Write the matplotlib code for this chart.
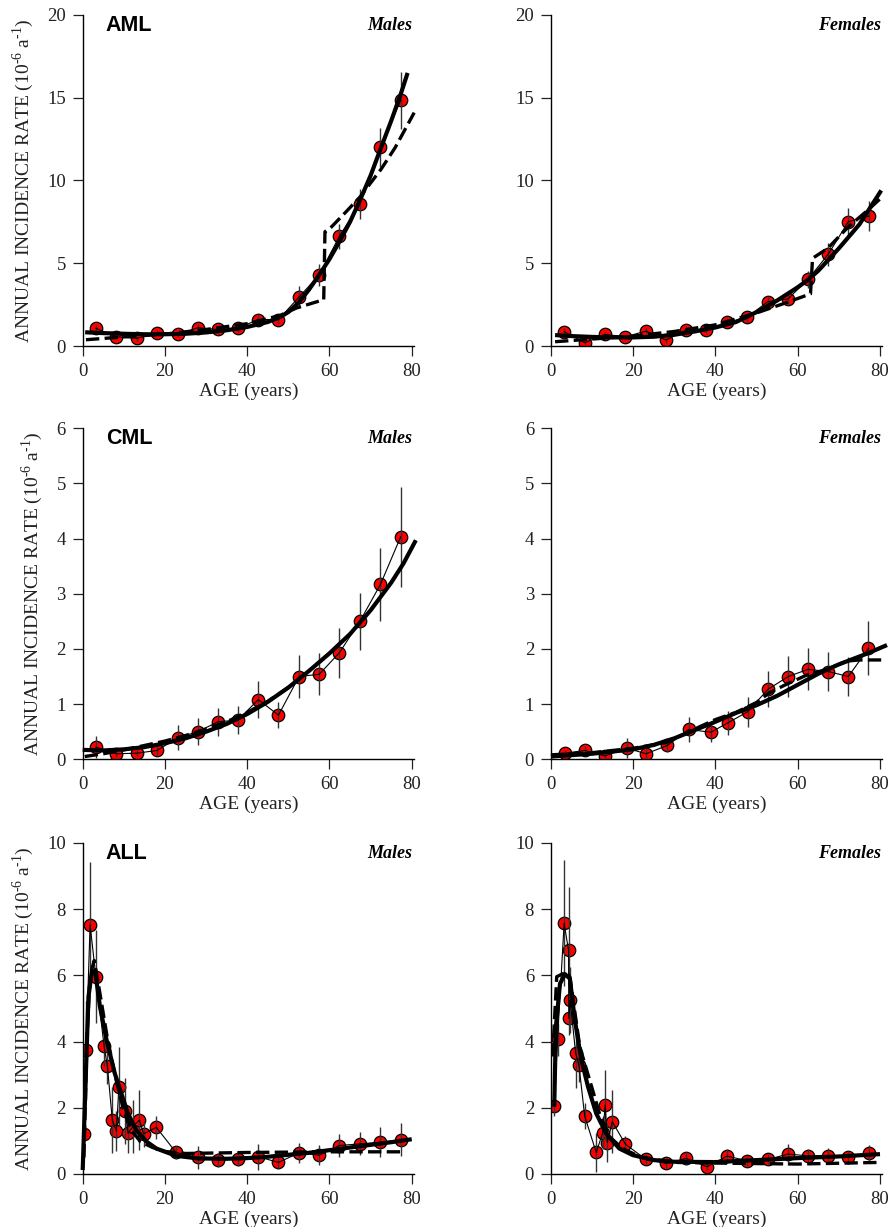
import matplotlib.pyplot as plt

plt.rcParams["font.family"] = ["Liberation Serif", "DejaVu Serif"]
plt.rcParams["mathtext.fontset"] = "custom"
plt.rcParams["mathtext.rm"] = "Liberation Serif"

# ---- AML, males
aml_m_age = [3.2, 8.2, 13.1, 18.1, 23.1, 28.0, 32.9, 37.7, 42.7, 47.6, 52.6, 57.5, 62.4, 67.4, 72.4, 77.3]
aml_m_rate = [1.07, 0.56, 0.46, 0.80, 0.70, 1.10, 1.00, 1.07, 1.60, 1.60, 2.96, 4.29, 6.63, 8.60, 12.00, 14.84]
aml_m_err = [0.2, 0.15, 0.15, 0.15, 0.15, 0.2, 0.2, 0.2, 0.25, 0.3, 0.65, 0.65, 0.75, 0.9, 1.2, 1.7]
aml_m_fit_x = [0.6, 5, 10, 15, 20, 25, 30, 35, 40, 45, 48, 50, 52.6, 55, 57.5, 60, 62.4, 65, 67.4, 70, 72.4, 75, 77.3, 79]
aml_m_fit_y = [0.83, 0.78, 0.74, 0.71, 0.71, 0.74, 0.82, 0.95, 1.15, 1.45, 1.75, 2.05, 2.65, 3.4, 4.3, 5.25, 6.3, 7.5, 8.8, 10.3, 11.9, 13.6, 15.2, 16.5]
aml_m_dash_x = [0.8, 10, 20, 30, 40, 48, 52, 58.6, 58.9, 60.5, 64, 67.4, 72.6, 76, 80.6]
aml_m_dash_y = [0.38, 0.55, 0.72, 1.0, 1.35, 1.85, 2.3, 2.8, 6.9, 7.2, 8.1, 9.0, 10.7, 12.0, 14.1]

# ---- AML, females
aml_f_age = [3.2, 8.2, 13.1, 18.1, 23.1, 28.0, 32.9, 37.8, 42.8, 47.7, 52.7, 57.6, 62.5, 67.4, 72.3, 77.3]
aml_f_rate = [0.87, 0.20, 0.70, 0.56, 0.90, 0.36, 0.97, 0.97, 1.43, 1.73, 2.68, 2.84, 4.03, 5.54, 7.51, 7.85]
aml_f_err = [0.2, 0.1, 0.15, 0.15, 0.2, 0.15, 0.2, 0.2, 0.25, 0.25, 0.3, 0.35, 0.5, 0.7, 0.85, 0.9]
aml_f_fit_x = [1, 5, 10, 15, 20, 25, 30, 35, 40, 45, 50, 55, 60, 62.5, 65, 70, 75, 80.3]
aml_f_fit_y = [0.66, 0.6, 0.55, 0.52, 0.52, 0.56, 0.68, 0.88, 1.12, 1.45, 2.05, 2.75, 3.55, 4.0, 4.55, 5.9, 7.35, 9.4]
aml_f_dash_x = [1, 10, 20, 30, 40, 50, 57, 63.1, 63.6, 67.3, 72.3, 77, 80.5]
aml_f_dash_y = [0.26, 0.42, 0.6, 0.88, 1.28, 2.0, 2.6, 3.15, 5.3, 5.9, 7.2, 8.2, 9.0]

# ---- CML, males
cml_m_age = [3.2, 8.2, 13.1, 18.1, 23.1, 28.0, 32.9, 37.7, 42.7, 47.6, 52.6, 57.5, 62.4, 67.4, 72.4, 77.3]
cml_m_rate = [0.22, 0.10, 0.11, 0.16, 0.39, 0.50, 0.68, 0.71, 1.08, 0.80, 1.50, 1.54, 1.93, 2.50, 3.17, 4.03]
cml_m_err = [0.2, 0.05, 0.05, 0.08, 0.23, 0.24, 0.25, 0.25, 0.33, 0.23, 0.39, 0.38, 0.45, 0.52, 0.66, 0.9]
cml_m_fit_x = [0, 5, 10, 15, 20, 25, 30, 35, 40, 45, 50, 55, 60, 65, 70, 75, 78, 81]
cml_m_fit_y = [0.17, 0.16, 0.18, 0.22, 0.29, 0.38, 0.5, 0.64, 0.82, 1.04, 1.3, 1.6, 1.92, 2.27, 2.7, 3.2, 3.55, 3.97]
cml_m_dash_x = [0.5, 5, 10, 15, 20, 25, 30, 35, 40, 45, 50]
cml_m_dash_y = [0.05, 0.1, 0.17, 0.25, 0.33, 0.43, 0.55, 0.68, 0.85, 1.05, 1.3]

# ---- CML, females
cml_f_age = [3.4, 8.2, 13.1, 18.5, 23.1, 28.3, 33.5, 38.9, 43.0, 47.8, 52.8, 57.7, 62.5, 67.4, 72.3, 77.2]
cml_f_rate = [0.11, 0.16, 0.06, 0.20, 0.10, 0.25, 0.54, 0.49, 0.66, 0.86, 1.27, 1.50, 1.63, 1.59, 1.50, 2.01]
cml_f_err = [0.05, 0.08, 0.04, 0.18, 0.08, 0.12, 0.23, 0.18, 0.22, 0.27, 0.33, 0.38, 0.38, 0.35, 0.35, 0.49]
cml_f_fit_x = [0, 10, 20, 25, 30, 35, 40, 45, 50, 55, 60, 65, 70, 77, 81.7]
cml_f_fit_y = [0.05, 0.1, 0.18, 0.26, 0.38, 0.53, 0.68, 0.84, 0.98, 1.15, 1.35, 1.55, 1.72, 1.92, 2.07]
cml_f_dash_x = [0, 10, 20, 28, 35, 40, 45, 50, 53, 57, 62, 67, 72, 75, 81]
cml_f_dash_y = [0.08, 0.12, 0.2, 0.3, 0.55, 0.72, 0.85, 1.03, 1.2, 1.35, 1.52, 1.63, 1.78, 1.8, 1.8]

# ---- ALL, males
all_m_age = [0.2, 0.8, 1.8, 3.2, 5.2, 6.0, 7.2, 8.2, 8.8, 10.3, 11.0, 12.2, 13.8, 14.8, 17.9, 22.7,
             28.0, 32.8, 37.7, 42.7, 47.6, 52.6, 57.5, 62.4, 67.4, 72.4, 77.3]
all_m_rate = [1.21, 3.74, 7.52, 5.96, 3.86, 3.26, 1.63, 1.30, 2.64, 1.90, 1.23, 1.43, 1.63, 1.21, 1.41, 0.65,
              0.50, 0.42, 0.45, 0.52, 0.35, 0.64, 0.57, 0.86, 0.91, 0.96, 1.03]
all_m_err = [0.5, 1.5, 1.9, 1.4, 0.6, 0.55, 1.0, 0.6, 1.2, 1.0, 0.6, 0.8, 0.9, 0.4, 0.35, 0.2,
             0.35, 0.2, 0.2, 0.4, 0.2, 0.3, 0.3, 0.35, 0.35, 0.45, 0.5]
all_m_fit_x = [0, 0.6, 1.4, 2.2, 3.0, 4.2, 5.8, 7.8, 9.4, 11, 13, 15.5, 17.9, 22.7, 28, 35, 40, 45, 50, 55, 60, 65, 70, 75, 80]
all_m_fit_y = [0.12, 2.4, 5.35, 6.1, 6.15, 5.05, 4.05, 3.04, 2.43, 1.83, 1.33, 0.98, 0.77, 0.55, 0.47, 0.46, 0.48,
               0.52, 0.58, 0.64, 0.72, 0.8, 0.88, 0.96, 1.05]
all_m_dash_x = [0.3, 1.0, 1.8, 2.8, 4, 6, 8, 10, 12, 14, 17, 20, 25, 30, 40, 50, 60, 78.4]
all_m_dash_y = [0.5, 4.0, 6.0, 6.45, 5.6, 4.1, 2.9, 1.9, 1.3, 0.98, 0.8, 0.68, 0.62, 0.63, 0.65, 0.66, 0.67, 0.67]

# ---- ALL, females
all_f_age = [0.8, 1.6, 3.2, 4.27, 4.34, 4.66, 6.0, 6.8, 8.2, 11.0, 12.6, 13.2, 13.7, 14.9, 18.1, 23.1,
             28.0, 32.9, 37.9, 42.8, 47.7, 52.7, 57.6, 62.5, 67.4, 72.3, 77.3]
all_f_rate = [2.05, 4.07, 7.57, 6.76, 4.70, 5.25, 3.65, 3.29, 1.75, 0.65, 1.25, 2.08, 0.95, 1.58, 0.90, 0.44,
              0.32, 0.47, 0.22, 0.54, 0.40, 0.44, 0.60, 0.55, 0.55, 0.50, 0.62]
all_f_err = [0.3, 0.5, 1.9, 1.9, 0.5, 1.0, 1.05, 0.5, 0.4, 0.6, 0.5, 1.05, 0.6, 0.95, 0.25, 0.15,
             0.15, 0.2, 0.1, 0.2, 0.15, 0.15, 0.32, 0.2, 0.25, 0.2, 0.25]
all_f_fit_x = [0.8, 1.2, 2.2, 3.4, 4.6, 5.8, 7.4, 9, 11, 13.4, 16.6, 19.9, 25, 30, 40, 50, 60, 70, 80]
all_f_fit_y = [2.03, 4.45, 5.75, 6.04, 5.9, 4.65, 3.44, 2.64, 1.83, 1.23, 0.77, 0.57, 0.42, 0.37, 0.36, 0.42, 0.48, 0.53, 0.6]
all_f_dash_x = [0.4, 1.4, 3.8, 4.6, 7, 9.4, 11.8, 14.2, 17.4, 22, 30, 40, 60, 80]
all_f_dash_y = [3.55, 5.96, 6.1, 5.95, 3.85, 2.84, 1.83, 1.13, 0.77, 0.5, 0.35, 0.33, 0.3, 0.35]

panels = [
    ("AML", "Males", aml_m_age, aml_m_rate, aml_m_err, aml_m_fit_x, aml_m_fit_y, aml_m_dash_x, aml_m_dash_y, 20, 5),
    ("", "Females", aml_f_age, aml_f_rate, aml_f_err, aml_f_fit_x, aml_f_fit_y, aml_f_dash_x, aml_f_dash_y, 20, 5),
    ("CML", "Males", cml_m_age, cml_m_rate, cml_m_err, cml_m_fit_x, cml_m_fit_y, cml_m_dash_x, cml_m_dash_y, 6, 1),
    ("", "Females", cml_f_age, cml_f_rate, cml_f_err, cml_f_fit_x, cml_f_fit_y, cml_f_dash_x, cml_f_dash_y, 6, 1),
    ("ALL", "Males", all_m_age, all_m_rate, all_m_err, all_m_fit_x, all_m_fit_y, all_m_dash_x, all_m_dash_y, 10, 2),
    ("", "Females", all_f_age, all_f_rate, all_f_err, all_f_fit_x, all_f_fit_y, all_f_dash_x, all_f_dash_y, 10, 2),
]

fig = plt.figure(figsize=(8.95, 12.27), dpi=100)
lefts = [0.0924, 0.6156]
bottoms = [0.7180, 0.3812, 0.0432]
w, h = 0.3704, 0.2698

for i, (name, sex, age, rate, err, fx, fy, dx, dy, ymax, ystep) in enumerate(panels):
    ax = fig.add_axes([lefts[i % 2], bottoms[i // 2], w, h])
    ax.errorbar(age, rate, yerr=err, fmt="none", ecolor="#333333", elinewidth=1.0, capsize=0, zorder=3)
    ax.plot(age, rate, color="black", lw=0.8, zorder=3)
    ax.plot(age, rate, ls="", marker="o", ms=9, mfc="#ff0000", mec="black", mew=0.9, zorder=2)
    ax.plot(fx, fy, color="black", lw=3, solid_capstyle="butt", zorder=4, clip_on=False)
    ax.plot(dx, dy, color="black", lw=2.4, ls=(0, (4, 1.6)), zorder=4, clip_on=False)

    ax.set_xlim(0, 80.6)
    ax.set_ylim(0, ymax)
    ax.set_xticks(range(0, 81, 20))
    ax.set_yticks(range(0, ymax + 1, ystep))
    for s in ("top", "right"):
        ax.spines[s].set_visible(False)
    for s in ("left", "bottom"):
        ax.spines[s].set_linewidth(1.0)
    ax.tick_params(direction="out", length=7.2, width=0.9, labelsize=13.5, pad=5, colors="#222222")
    ax.set_xlabel("AGE (years)", fontsize=14, labelpad=2, color="#222222")
    if i % 2 == 0:
        ax.set_ylabel(r"ANNUAL INCIDENCE RATE (10$^{\text{-6}}$ a$^{\text{-1}}$)", fontsize=14,
                      labelpad=8, color="#222222")
        ax.text(0.07, 0.952, name, transform=ax.transAxes, fontsize=15.5, fontweight="bold",
                family="Liberation Sans", ha="left", va="baseline")
    ax.text(0.995, 0.955, sex, transform=ax.transAxes, fontsize=13, fontweight="bold",
            style="italic", ha="right", va="baseline")

fig.savefig("out.png", dpi=100)
